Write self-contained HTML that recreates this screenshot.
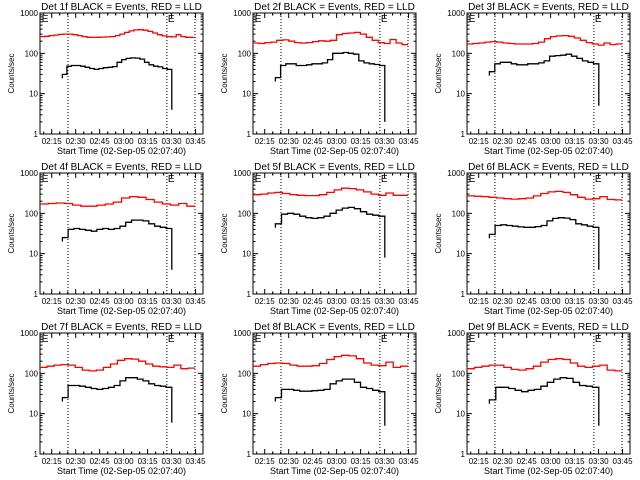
<!DOCTYPE html>
<html><head><meta charset="utf-8">
<style>
html,body{margin:0;padding:0;background:#fff;}
svg{display:block;}
text{font-family:"Liberation Sans",sans-serif;fill:#000;}
</style></head>
<body>
<svg id="c" width="640" height="480" viewBox="0 0 640 480"></svg>
<script>
const detectors = ["1f","2f","3f","4f","5f","6f","7f","8f","9f"];
const tickLabels = ["02:15","02:30","02:45","03:00","03:15","03:30","03:45"];
const tickMinutes = [7.33,22.33,37.33,52.33,67.33,82.33,97.33];
const yTicks = [1,10,100,1000];
const dottedMinutes = [17.5,79.4,97];
const redSpan = [0,97];
const blackSpan = [14,82.5];
const red1 = [260,265,275,285,295,300,300,290,275,260,250,248,250,252,255,260,275,300,330,360,380,385,375,350,320,290,270,260,255,290,260,250,248];
const red2 = [180,175,185,190,210,215,200,185,180,185,195,205,200,210,290,310,320,330,300,250,210,185,175,220,180,165];
const red3 = [170,175,180,190,195,190,180,175,170,170,170,175,190,230,260,270,275,265,240,210,185,170,160,180,165,170];
const red4 = [170,175,180,175,160,150,150,160,170,190,240,260,250,220,190,170,160,175,150];
const red5 = [290,300,320,330,310,290,280,275,275,290,330,380,420,410,380,340,300,280,320,280,280];
const red6 = [270,265,260,250,240,230,225,230,240,270,310,340,350,330,290,250,225,230,260,220,215];
const red7 = [140,150,160,165,160,140,120,115,120,140,170,210,230,225,200,170,150,145,140,160,130,135];
const red8 = [150,165,175,180,175,160,150,150,155,175,220,260,280,270,230,180,160,155,190,140,150];
const red9 = [130,140,150,160,160,140,125,120,130,150,190,220,230,220,180,150,140,150,160,120,115];
const black1 = [30,48,50,50,48,45,42,40,42,44,45,47,60,70,75,77,76,72,60,52,48,46,42,40];
const black2 = [25,50,55,55,50,50,52,55,55,58,70,100,100,105,100,95,65,58,55,53,50];
const black3 = [35,55,60,60,55,52,52,55,55,58,65,85,88,90,95,85,75,65,60,55];
const black4 = [25,40,42,40,38,36,40,42,40,42,48,60,68,68,65,55,48,45,42];
const black5 = [55,95,100,95,85,78,75,78,85,100,120,135,140,130,110,95,90,85];
const black6 = [30,50,52,50,48,46,45,45,47,50,65,75,78,76,70,55,52,48,45];
const black7 = [25,50,50,48,45,42,40,42,45,50,65,78,78,72,65,55,50,48,45];
const black8 = [25,40,40,38,36,36,37,38,40,55,65,72,72,60,45,42,38,35];
const black9 = [22,45,45,42,38,35,38,40,48,60,72,78,75,60,50,48,45];
const blackEnd = [4,2,5,4,8,4,6,5,5];
const reds = [red1,red2,red3,red4,red5,red6,red7,red8,red9];
const blacks = [black1,black2,black3,black4,black5,black6,black7,black8,black9];

const NS="http://www.w3.org/2000/svg";
const svg=document.getElementById('c');
function mk(tag,attrs,parent){const e=document.createElementNS(NS,tag);for(const k in attrs)e.setAttribute(k,attrs[k]);(parent||svg).appendChild(e);return e;}
const colX=[40,253,467], rowY=[13,173,333], W=163, H=121, XMAX=102;

detectors.forEach((det,i)=>{
  const L=colX[i%3], T=rowY[Math.floor(i/3)];
  const g=mk('g',{});
  
  
  const xs=m=>L+m/XMAX*W;
  const ys=v=>T+H-(Math.log10(v)/3)*H;
  // box
  const box=mk('rect',{x:L,y:T,width:W,height:H,fill:'none',stroke:'#000','stroke-width':1},g);
  
  
  // title
  const tt=mk('text',{x:L+W/2,y:T-3,'font-size':10,'text-anchor':'middle'},g);
  tt.textContent='Det '+det+' BLACK = Events, RED = LLD';
  
  
  // y ticks
  yTicks.forEach(v=>{
    const y=ys(v);
    mk('line',{x1:L,x2:L+5,y1:y,y2:y,stroke:'#000'},g);
    mk('line',{x1:L+W-5,x2:L+W,y1:y,y2:y,stroke:'#000'},g);
    const t=mk('text',{x:L-2,y:y+3,'font-size':8,'text-anchor':'end'},g);
    t.textContent=String(v);
    
    
    if(v<1000){for(let k=2;k<10;k++){const yy=ys(v*k);
      mk('line',{x1:L,x2:L+2.5,y1:yy,y2:yy,stroke:'#000'},g);
      mk('line',{x1:L+W-2.5,x2:L+W,y1:yy,y2:yy,stroke:'#000'},g);}}
  });
  // x ticks
  tickMinutes.forEach((m,j)=>{
    const x=xs(m);
    mk('line',{x1:x,x2:x,y1:T+H,y2:T+H-5,stroke:'#000'},g);
    mk('line',{x1:x,x2:x,y1:T,y2:T+5,stroke:'#000'},g);
    const t=mk('text',{x:x,y:T+H+10,'font-size':8,'text-anchor':'middle'},g);
    t.textContent=tickLabels[j];
    
    
    for(let k=-2;k<=2;k++){if(!k)continue;const mm=m+k*5;if(mm<0||mm>XMAX)continue;const xx=xs(mm);
      mk('line',{x1:xx,x2:xx,y1:T+H,y2:T+H-2.5,stroke:'#000'},g);
      mk('line',{x1:xx,x2:xx,y1:T,y2:T+2.5,stroke:'#000'},g);}
  });
  // axis titles
  const xt=mk('text',{x:L+W/2,y:T+H+20,'font-size':9,'text-anchor':'middle'},g);
  xt.textContent='Start Time (02-Sep-05 02:07:40)';
  
  
  const yt=mk('text',{x:0,y:0,'font-size':8,'text-anchor':'middle',transform:`translate(${L-26},${T+H/2}) rotate(-90)`},g);
  yt.textContent='Counts/sec';
  
  
  // dotted lines
  dottedMinutes.forEach(m=>{
    const dl=mk('line',{x1:xs(m),x2:xs(m),y1:T,y2:T+H,stroke:'#000','stroke-dasharray':'1,2'},g);
    
    
  });
  // E markers
  [0.5,dottedMinutes[1]].forEach(m=>{
    const e=mk('text',{x:xs(m)+1,y:T+9,'font-size':10},g);
    e.textContent='E';
    
    
  });
  // step path builder
  function stepPath(vals,span){
    const n=vals.length;let d='';
    vals.forEach((v,k)=>{
      const x0=xs(span[0]+(span[1]-span[0])*k/n), x1=xs(span[0]+(span[1]-span[0])*(k+1)/n);
      d+=(k?'L':'M')+x0.toFixed(1)+','+ys(v).toFixed(1)+'L'+x1.toFixed(1)+','+ys(v).toFixed(1);
    });
    return d;
  }
  const rp=mk('path',{d:stepPath(reds[i],redSpan),fill:'none',stroke:'#ff0000','stroke-width':1.3},g);
  
  
  const bv=blacks[i];
  let bd=stepPath(bv,blackSpan);
  bd='M'+xs(blackSpan[0]).toFixed(1)+','+ys(bv[0]*0.8).toFixed(1)+bd.replace(/^M/,'L');
  bd+='L'+xs(blackSpan[1]).toFixed(1)+','+ys(blackEnd[i]).toFixed(1);
  const bp=mk('path',{d:bd,fill:'none',stroke:'#000','stroke-width':1.3},g);
  
  
});
</script>
</body></html>
